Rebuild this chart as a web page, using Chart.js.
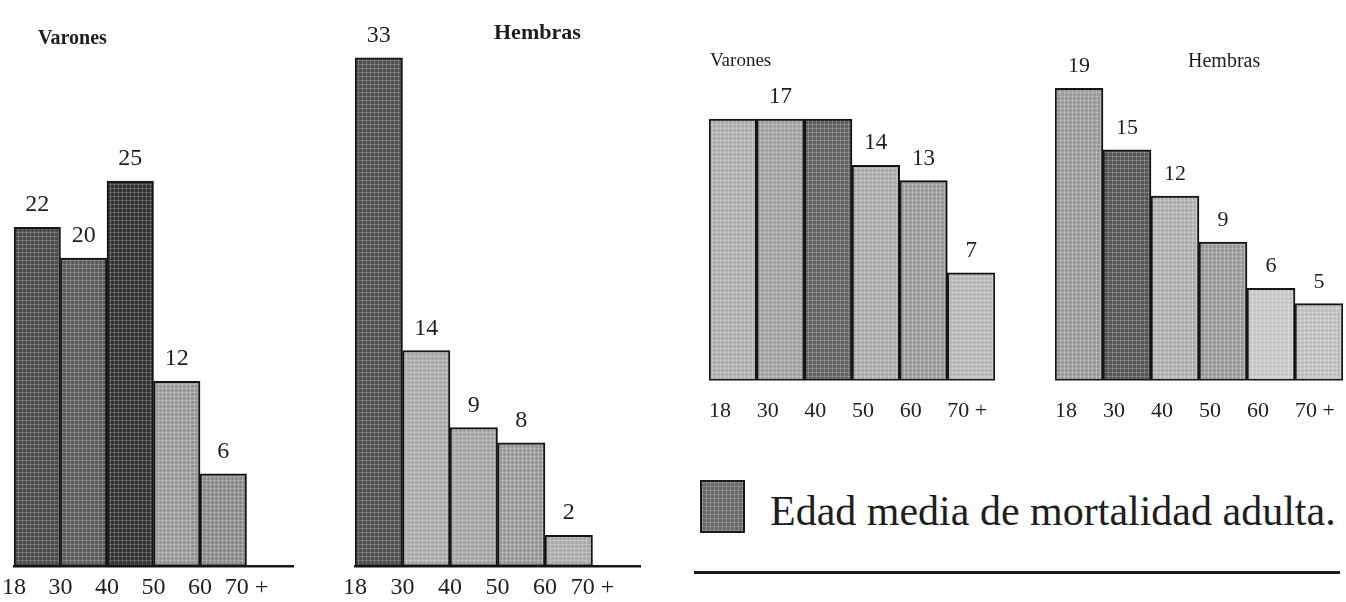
<!DOCTYPE html>
<html>
<head>
<meta charset="utf-8">
<script src="https://cdn.jsdelivr.net/npm/chart.js@4.4.0/dist/chart.umd.min.js"></script>
<style>
html, body { margin: 0; padding: 0; background: #fff; width: 1346px; height: 602px; overflow: hidden; }
.caja { position: absolute; }
.texto { position: absolute; font-family: "Liberation Serif", "DejaVu Serif", serif; color: #1e1e1e; white-space: nowrap; line-height: 1; }
#cuadro { position: absolute; left: 700px; top: 480px; width: 41px; height: 49px; border: 2px solid #1a1a1a;
  background-color: #6a6a6a;
  background-image: repeating-linear-gradient(0deg, rgba(255,255,255,0.18) 0 1px, transparent 1px 4px),
                    repeating-linear-gradient(90deg, rgba(255,255,255,0.18) 0 1px, transparent 1px 4px); }
#raya { position: absolute; left: 694px; top: 571px; width: 646px; height: 3px; background: #1a1a1a; }
</style>
</head>
<body>

<div class="caja" style="left:-10px;top:0px;width:340px;height:609px"><canvas id="g1"></canvas></div>
<div class="caja" style="left:330px;top:0px;width:330px;height:609px"><canvas id="g2"></canvas></div>
<div class="caja" style="left:680px;top:0px;width:340px;height:441px"><canvas id="g3"></canvas></div>
<div class="caja" style="left:1020px;top:0px;width:346px;height:441px"><canvas id="g4"></canvas></div>

<div class="texto" style="left:38px;top:27px;font-size:20px;font-weight:bold">Varones</div>
<div class="texto" style="left:494px;top:21px;font-size:22px;font-weight:bold">Hembras</div>
<div class="texto" style="left:710px;top:50px;font-size:19px">Varones</div>
<div class="texto" style="left:1188px;top:50px;font-size:20px">Hembras</div>

<div id="cuadro"></div>
<div class="texto" style="left:770px;top:490px;font-size:42px">Edad media de mortalidad adulta.</div>
<div id="raya"></div>

<script>
// limites de los grupos de edad
var edades = ["18", "30", "40", "50", "60", "70 +"];

// grafica de la izquierda
var varonesIzq = [22, 20, 25, 12, 6];
var hembrasIzq = [33, 14, 9, 8, 2];

// grafica de la derecha
var varonesDer = [17, 17, 17, 14, 13, 7];
var hembrasDer = [19, 15, 12, 9, 6, 5];

// tonos de gris (el mas oscuro = edad media de mortalidad adulta)
var grisVaronesIzq = ["#4d4d4d", "#5e5e5e", "#343434", "#999999", "#8e8e8e"];
var grisHembrasIzq = ["#4f4f4f", "#ababab", "#a6a6a6", "#9a9a9a", "#adadad"];
var grisVaronesDer = ["#b1b1b1", "#a3a3a3", "#626262", "#aaaaaa", "#9c9c9c", "#bababa"];
var grisHembrasDer = ["#9c9c9c", "#575757", "#b2b2b2", "#9c9c9c", "#c9c9c9", "#c1c1c1"];

// trama de puntos como en la imagen impresa
function trama(color) {
    var c = document.createElement("canvas");
    c.width = 4;
    c.height = 4;
    var cx = c.getContext("2d");
    cx.fillStyle = color;
    cx.fillRect(0, 0, 4, 4);
    cx.fillStyle = "rgba(255,255,255,0.2)";
    cx.fillRect(0, 0, 4, 1);
    cx.fillRect(0, 0, 1, 4);
    cx.fillStyle = "rgba(0,0,0,0.12)";
    cx.fillRect(2, 2, 1, 1);
    return cx.createPattern(c, "repeat");
}

var etiquetasBarras = {
    id: "etiquetasBarras",
    afterDatasetsDraw: function (chart, args, opts) {
        var ctx = chart.ctx;
        var meta = chart.getDatasetMeta(0);
        var datos = chart.data.datasets[0].data;
        ctx.save();
        ctx.font = opts.fuente;
        ctx.fillStyle = "#1e1e1e";
        ctx.textAlign = "center";
        ctx.textBaseline = "alphabetic";
        meta.data.forEach(function (barra, i) {
            if (opts.ocultar.indexOf(i) >= 0) return;
            ctx.fillText(datos[i].y, barra.x, barra.y - 16);
        });
        ctx.restore();
    }
};

function graficar(id, valores, grises, cfg) {
    var datos = valores.map(function (v, i) { return { x: i + 0.5, y: v }; });
    return new Chart(document.getElementById(id), {
        type: "bar",
        data: {
            datasets: [{
                data: datos,
                backgroundColor: grises.map(trama),
                borderColor: "#161616",
                borderWidth: 2,
                borderSkipped: false,
                barPercentage: 1,
                categoryPercentage: 1
            }]
        },
        options: {
            responsive: true,
            maintainAspectRatio: false,
            animation: false,
            layout: { padding: { left: cfg.izq, right: cfg.der, top: 0, bottom: 0 } },
            plugins: {
                legend: { display: false },
                tooltip: { enabled: false },
                etiquetasBarras: { fuente: cfg.fuenteValor, ocultar: cfg.ocultar || [] }
            },
            scales: {
                x: {
                    type: "linear",
                    offset: false,
                    min: 0,
                    max: 6,
                    grid: { display: false, drawTicks: false, offset: false },
                    border: { display: cfg.eje, color: "#161616", width: 2.5 },
                    ticks: {
                        stepSize: 1,
                        autoSkip: false,
                        maxRotation: 0,
                        padding: cfg.pad,
                        align: cfg.alinear,
                        color: "#1e1e1e",
                        font: { family: "Liberation Serif", size: cfg.fuenteEje },
                        callback: function (v) { return edades[v] !== undefined ? edades[v] : ""; }
                    }
                },
                y: { display: false, min: 0, max: cfg.maximo }
            }
        },
        plugins: [etiquetasBarras]
    });
}

graficar("g1", varonesIzq, grisVaronesIzq, { izq: 24, der: 37, eje: true, pad: 7, alinear: "center", fuenteEje: 24, fuenteValor: "24px 'Liberation Serif'", maximo: 36.75 });
graficar("g2", hembrasIzq, grisHembrasIzq, { izq: 25, der: 20, eje: true, pad: 7, alinear: "center", fuenteEje: 24, fuenteValor: "24px 'Liberation Serif'", maximo: 36.75 });
graficar("g3", varonesDer, grisVaronesDer, { izq: 29, der: 25, eje: false, pad: 17, alinear: "start", fuenteEje: 22, fuenteValor: "23px 'Liberation Serif'", maximo: 24.74, ocultar: [0, 2] });
graficar("g4", hembrasDer, grisHembrasDer, { izq: 35, der: 23, eje: false, pad: 17, alinear: "start", fuenteEje: 22, fuenteValor: "22px 'Liberation Serif'", maximo: 24.74 });
</script>
</body>
</html>
